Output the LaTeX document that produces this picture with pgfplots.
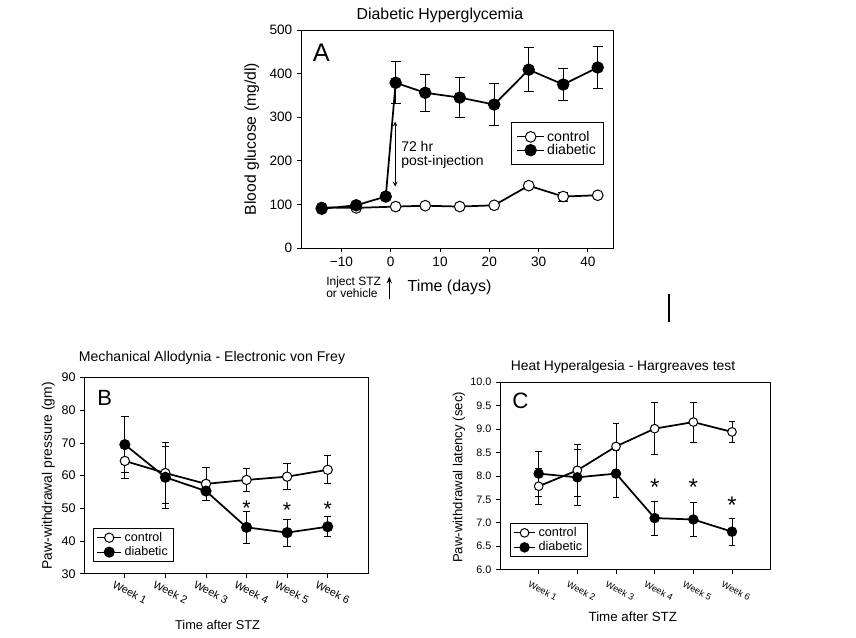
\documentclass[border=0pt]{standalone}
\usepackage{fontspec}
\setmainfont{Liberation Sans}
\usepackage{pgfplots}
\usepackage{pgfplotstable}
\usetikzlibrary{arrows.meta}
\pgfplotsset{compat=1.18}

\pgfplotstableread{
x y e
-14 93 0
-7 92 0
1 95 0
7 97 0
14 95 0
21 98 0
28 143 0
35 118 10
42 121 0
}\Actl
\pgfplotstableread{
x y e
-14 90 0
-7 98 0
-1 118 0
1 379 48
7 356 42
14 345 46
21 329 48
28 409 50
35 375 37
42 414 49
}\Adia
\pgfplotstableread{
x y e
1 64.5 5.3
2 60.8 9.4
3 57.5 5.0
4 58.7 3.5
5 59.7 4.0
6 61.8 4.3
}\Bctl
\pgfplotstableread{
x y e
1 69.5 8.5
2 59.5 9.5
3 55.3 2.8
4 44.2 4.8
5 42.6 4.1
6 44.4 3.1
}\Bdia
\pgfplotstableread{
x y e
1 7.78 0.38
2 8.12 0.55
3 8.63 0.50
4 9.01 0.56
5 9.15 0.43
6 8.94 0.22
}\Cctl
\pgfplotstableread{
x y e
1 8.05 0.48
2 7.97 0.60
3 8.05 0.50
4 7.10 0.36
5 7.07 0.37
6 6.81 0.29
}\Cdia

\pgfplotsset{
  fig/.style={scale only axis, anchor=south west,
    axis line style={line width=0.75pt},
    tick align=outside, xtick pos=bottom, ytick pos=left,
    major tick length=3pt, tick style={line width=0.6pt,black},
    clip=false, legend cell align=left},
  ctl/.style={black, line width=1.3pt, mark=*, mark size=#1,
    mark options={fill=white, draw=black, line width=0.75pt, solid}},
  dia/.style={black, line width=1.3pt, mark=*, mark size=#1,
    mark options={fill=black, draw=black, solid}},
  eb/.style={forget plot, draw=none, mark=none,
    error bars/.cd, y dir=both, y explicit,
    error bar style={draw=black, line width=0.6pt},
    error mark options={rotate=90, draw=black, line width=0.6pt, mark size=#1}},
  legimg/.style={legend image code/.code={
      \draw[##1, line width=0.75pt, mark=none] (0pt,0pt) -- (#1,0pt);
      \draw[##1] plot coordinates {(0.5*#1,0pt)};}},
}

\begin{document}
\begin{tikzpicture}
\useasboundingbox (0,0) rectangle (642pt,477.75pt);

% ---------------- Panel A ----------------
\begin{axis}[fig, at={(225.75pt,291.75pt)}, width=234pt, height=163.5pt,
  xmin=-18.2, xmax=45.1, ymin=0, ymax=500,
  xtick={-10,0,10,20,30,40}, xticklabels={−10,0,10,20,30,40},
  ytick={0,100,200,300,400,500}, yticklabels={0,100,200,300,400,500},
  tick label style={font=\fontsize{10.2}{12}\selectfont},
  legimg=20pt,
  legend style={at={(0.673,0.578)}, anchor=north west, draw=black,
    line width=0.75pt, font=\fontsize{10.6}{11}\selectfont,
    inner xsep=4pt, inner ysep=4.2pt, row sep=-3.2pt}]
\addplot[eb=3.75pt] table[x=x,y=y,y error=e]{\Actl};
\addplot[eb=3.75pt] table[x=x,y=y,y error=e]{\Adia};
\addplot[ctl=4pt] table[x=x,y=y]{\Actl};
\addplot[dia=4pt] table[x=x,y=y]{\Adia};
\legend{control,diabetic}
\draw[<->, >=stealth, line width=0.6pt] (axis cs:0.9,290) -- (axis cs:0.9,141);
\end{axis}

% ---------------- Panel B ----------------
\begin{axis}[fig, at={(63.2pt,47.4pt)}, width=213pt, height=147.2pt,
  xmin=0, xmax=7, ymin=30, ymax=90,
  xtick={1,2,3,4,5,6},
  xticklabels={Week 1,Week 2,Week 3,Week 4,Week 5,Week 6},
  ytick={30,40,50,60,70,80,90}, yticklabels={30,40,50,60,70,80,90},
  yticklabel style={font=\fontsize{9.4}{11}\selectfont},
  xticklabel style={font=\fontsize{8.1}{9}\selectfont, xshift=3.75pt, yshift=-10.8pt, rotate=-27, anchor=center},
  legimg=18.3pt,
  legend style={at={(0.032,0.235)}, anchor=north west, draw=black,
    line width=0.75pt, font=\fontsize{9.4}{10}\selectfont,
    inner xsep=2pt, inner ysep=1pt, row sep=-1.5pt}]
\addplot[eb=2.75pt] table[x=x,y=y,y error=e]{\Bctl};
\addplot[eb=2.75pt] table[x=x,y=y,y error=e]{\Bdia};
\addplot[ctl=3.5pt] table[x=x,y=y]{\Bctl};
\addplot[dia=3.5pt] table[x=x,y=y]{\Bdia};
\legend{control,diabetic}
\node[anchor=north, inner sep=0pt, font=\fontsize{16}{16}\selectfont] at (axis cs:4,52.5) {*};
\node[anchor=north, inner sep=0pt, font=\fontsize{16}{16}\selectfont] at (axis cs:5,51.8) {*};
\node[anchor=north, inner sep=0pt, font=\fontsize{16}{16}\selectfont] at (axis cs:6,52.2) {*};
\end{axis}

% ---------------- Panel C ----------------
\begin{axis}[fig, at={(375pt,50.55pt)}, width=203pt, height=140.5pt,
  xmin=0, xmax=7, ymin=6, ymax=10,
  xtick={1,2,3,4,5,6},
  xticklabels={Week 1,Week 2,Week 3,Week 4,Week 5,Week 6},
  ytick={6,6.5,7,7.5,8,8.5,9,9.5,10},
  yticklabels={6.0,6.5,7.0,7.5,8.0,8.5,9.0,9.5,10.0},
  yticklabel style={font=\fontsize{8.1}{10}\selectfont},
  xticklabel style={font=\fontsize{6.8}{8}\selectfont, xshift=3pt, yshift=-13pt, rotate=-27, anchor=center},
  legimg=16.3pt,
  legend style={at={(0.037,0.25)}, anchor=north west, draw=black,
    line width=0.75pt, font=\fontsize{9.5}{10}\selectfont,
    inner xsep=2pt, inner ysep=1pt, row sep=-1.5pt}]
\addplot[eb=2.5pt] table[x=x,y=y,y error=e]{\Cctl};
\addplot[eb=2.5pt] table[x=x,y=y,y error=e]{\Cdia};
\addplot[ctl=3.25pt] table[x=x,y=y]{\Cctl};
\addplot[dia=3.25pt] table[x=x,y=y]{\Cdia};
\legend{control,diabetic}
\node[anchor=north, inner sep=0pt, font=\fontsize{18}{18}\selectfont] at (axis cs:4,7.93) {*};
\node[anchor=north, inner sep=0pt, font=\fontsize{18}{18}\selectfont] at (axis cs:5,7.93) {*};
\node[anchor=north, inner sep=0pt, font=\fontsize{18}{18}\selectfont] at (axis cs:6,7.56) {*};
\end{axis}

% ---------------- free text (pixel units) ----------------
\begin{scope}[x=0.75pt,y=0.75pt]
\node[font=\fontsize{11.9}{14}\selectfont] at (440,622) {Diabetic Hyperglycemia};
\node[font=\fontsize{10.6}{12}\selectfont] at (212,278.7) {Mechanical Allodynia - Electronic von Frey};
\node[font=\fontsize{10.4}{12}\selectfont] at (623,270.3) {Heat Hyperalgesia - Hargreaves test};
\node[rotate=90, font=\fontsize{11.8}{14}\selectfont] at (251.7,498) {Blood glucose (mg/dl)};
\node[rotate=90, font=\fontsize{10.4}{12}\selectfont] at (48.3,161.2) {Paw-withdrawal pressure (gm)};
\node[rotate=90, font=\fontsize{9.9}{12}\selectfont] at (459,159.6) {Paw-withdrawal latency (sec)};
\node[font=\fontsize{19}{19}\selectfont, inner sep=0pt] at (321.3,584.5) {A};
\node[font=\fontsize{16.5}{16.5}\selectfont, inner sep=0pt] at (104.7,239.2) {B};
\node[font=\fontsize{16.7}{16.7}\selectfont, inner sep=0pt] at (520.5,235.7) {C};
\node[anchor=west, align=left, inner sep=0pt, font=\fontsize{10.5}{10.5}\selectfont] at (401,482.3) {72 hr\\post-injection};
\node[anchor=west, inner sep=0pt, font=\fontsize{12}{14}\selectfont] at (407.3,349.3) {Time (days)};
\node[anchor=west, align=left, inner sep=0pt, font=\fontsize{9}{8.7}\selectfont] at (326,349.5) {Inject STZ\\or vehicle};
\draw[-{Stealth[length=5pt,width=4pt]}, line width=0.8pt] (389.3,337.7) -- (389.3,360.3);
\node[font=\fontsize{9.6}{12}\selectfont] at (217.5,12) {Time after STZ};
\node[font=\fontsize{10}{12}\selectfont] at (632.8,20.3) {Time after STZ};
\draw[line width=1.2pt] (669,343) -- (669,315);
\end{scope}
\end{tikzpicture}
\end{document}
